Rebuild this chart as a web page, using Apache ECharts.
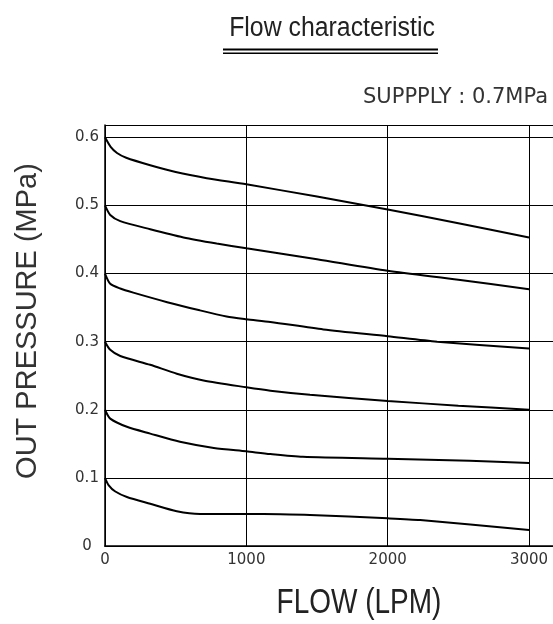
<!DOCTYPE html>
<html>
<head>
<meta charset="utf-8">
<script src="https://cdn.jsdelivr.net/npm/echarts@6/dist/echarts.min.js"></script>
<style>html,body{margin:0;padding:0;background:#fff;}#c{width:553px;height:624px;}</style>
</head>
<body>
<div id="c"></div>
<script>
var titleText = 'Flow characteristic';
var supplyText = 'SUPPPLY : 0.7MPa';
var xName = 'FLOW (LPM)';
var yName = 'OUT PRESSURE (MPa)';
var xTickLabels = ['0', '1000', '2000', '3000'];
var yTickLabels = ['0', '0.1', '0.2', '0.3', '0.4', '0.5', '0.6'];

var flow1 = [0, 40, 85, 150, 320, 500, 720, 1000, 1500, 2000, 2500, 3000];
var p06 = [0.6, 0.586, 0.577, 0.570, 0.559, 0.549, 0.540, 0.531, 0.513, 0.494, 0.474, 0.453];

var flow2 = [0, 37, 108, 320, 555, 790, 1000, 1250, 1500, 2000, 2500, 3000];
var p05 = [0.5, 0.486, 0.477, 0.465, 0.453, 0.444, 0.437, 0.429, 0.421, 0.404, 0.391, 0.377];

var flow3 = [0, 37, 108, 200, 440, 670, 860, 1000, 1170, 1545, 2000, 2350, 3000];
var p04 = [0.4, 0.385, 0.378, 0.372, 0.358, 0.346, 0.337, 0.333, 0.329, 0.318, 0.308, 0.300, 0.290];

var flow4 = [0, 37, 108, 320, 508, 697, 1000, 1170, 1450, 2000, 2500, 3000];
var p03 = [0.3, 0.288, 0.279, 0.266, 0.253, 0.243, 0.233, 0.228, 0.222, 0.213, 0.206, 0.200];

var flow5 = [0, 37, 155, 320, 530, 770, 1000, 1170, 1400, 2000, 2580, 3000];
var p02 = [0.2, 0.187, 0.175, 0.165, 0.153, 0.144, 0.139, 0.135, 0.131, 0.128, 0.125, 0.122];

var flow6 = [0, 25, 73, 155, 320, 508, 673, 1000, 1240, 1450, 2000, 2230, 3000];
var p01 = [0.1, 0.0895, 0.080, 0.072, 0.062, 0.051, 0.047, 0.047, 0.0465, 0.0455, 0.0406, 0.038, 0.0235];

function pairs(xs, ys) { return xs.map(function (x, i) { return [x, ys[i]]; }); }

var curves = [[flow1, p06], [flow2, p05], [flow3, p04], [flow4, p03], [flow5, p02], [flow6, p01]];

var chart = echarts.init(document.getElementById('c'), null, { renderer: 'canvas' });

var labelColor = '#333';
var tickFont = 'DejaVu Sans';

var option = {
  backgroundColor: '#fff',
  animation: false,
  grid: { left: 105, right: -5, top: 125, bottom: 78, containLabel: false, outerBoundsMode: 'none' },
  xAxis: [{
    type: 'value', min: 0, max: 3205, interval: 1000,
    axisLine: { show: true, onZero: false, lineStyle: { color: '#000', width: 1.5 } },
    axisTick: { show: false },
    splitLine: { show: true, lineStyle: { color: '#000', width: 1 } },
    axisLabel: {
      color: labelColor, fontFamily: tickFont, fontSize: 15, margin: 7,
      showMinLabel: true, showMaxLabel: true,
      formatter: function (v) { var s = String(Math.round(v)); return (Math.abs(v % 1000) < 1e-6 && xTickLabels.indexOf(s) >= 0) ? s : ''; }
    }
  }, {
    type: 'value', position: 'top', min: 0, max: 3205,
    axisLine: { show: true, lineStyle: { color: '#000', width: 1 } },
    axisTick: { show: false }, axisLabel: { show: false }, splitLine: { show: false }
  }],
  yAxis: [{
    type: 'value', min: 0, max: 0.6181, interval: 0.1,
    axisLine: { show: true, onZero: false, lineStyle: { color: '#000', width: 1.5 } },
    axisTick: { show: false },
    splitLine: { show: true, lineStyle: { color: '#000', width: 1 } },
    axisLabel: {
      color: labelColor, fontFamily: tickFont, fontSize: 15, margin: 18, align: 'center',
      formatter: function (v) {
        var k = Math.round(v * 10);
        if (Math.abs(v * 10 - k) > 1e-6) return '';
        return yTickLabels[k] || '';
      }
    }
  }],
  series: curves.map(function (c) {
    return {
      type: 'line', data: pairs(c[0], c[1]), smooth: 0.25, symbol: 'none',
      lineStyle: { color: '#000', width: 2 }, silent: true
    };
  }),
  graphic: [
    { type: 'text', x: 332, y: 29, scaleX: 0.92, style: { text: titleText, x: 0, y: 0, textAlign: 'center', textVerticalAlign: 'middle', fontFamily: 'Liberation Sans', fontSize: 27, fill: '#222' } },
    { type: 'line', shape: { x1: 223, y1: 49.5, x2: 438, y2: 49.5 }, style: { stroke: '#000', lineWidth: 2 } },
    { type: 'line', shape: { x1: 223, y1: 53.3, x2: 438, y2: 53.3 }, style: { stroke: '#000', lineWidth: 1.6 } },
    { type: 'text', x: 548, y: 98, style: { text: supplyText, textAlign: 'right', textVerticalAlign: 'middle', fontFamily: 'DejaVu Sans', fontSize: 21, fill: labelColor } },
    { type: 'text', x: 28, y: 321, rotation: Math.PI / 2, style: { text: yName, textAlign: 'center', textVerticalAlign: 'middle', fontFamily: 'Liberation Sans', fontSize: 29, fill: labelColor } },
    { type: 'text', x: 359, y: 603, scaleX: 0.8, style: { text: xName, textAlign: 'center', textVerticalAlign: 'middle', fontFamily: 'Liberation Sans', fontSize: 35, fill: '#222' } }
  ]
};
chart.setOption(option);
</script>
</body>
</html>
